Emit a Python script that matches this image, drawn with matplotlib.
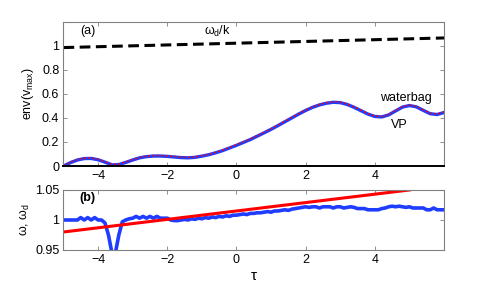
import matplotlib
matplotlib.use("Agg")
from matplotlib import pyplot as plt

plt.rcParams['font.family'] = ['Liberation Sans', 'DejaVu Sans']
plt.rcParams['font.size'] = 9
plt.rcParams['mathtext.fontset'] = 'custom'
plt.rcParams['mathtext.rm'] = 'Liberation Sans'
plt.rcParams['mathtext.it'] = 'Liberation Sans'

# panel (a): envelope of v_max
tau_a = [-5.0, -4.8, -4.6, -4.4, -4.2, -4.0, -3.8, -3.6, -3.4, -3.2, -3.0, -2.8, -2.6, -2.4,
         -2.2, -2.0, -1.8, -1.6, -1.4, -1.2, -1.0, -0.8, -0.6, -0.4, -0.2, 0.0, 0.2, 0.4,
         0.6, 0.8, 1.0, 1.2, 1.4, 1.6, 1.8, 2.0, 2.2, 2.4, 2.6, 2.8, 3.0, 3.2, 3.4, 3.6,
         3.8, 4.0, 4.2, 4.4, 4.6, 4.8, 5.0, 5.2, 5.4, 5.6, 5.8, 6.0]
env_waterbag = [0.000, 0.028, 0.050, 0.062, 0.063, 0.052, 0.032, 0.010, 0.012, 0.030, 0.050,
                0.068, 0.078, 0.083, 0.083, 0.080, 0.075, 0.070, 0.068, 0.072, 0.082, 0.094,
                0.110, 0.128, 0.150, 0.172, 0.196, 0.220, 0.248, 0.276, 0.305, 0.336, 0.368,
                0.400, 0.432, 0.462, 0.488, 0.508, 0.522, 0.530, 0.527, 0.512, 0.488, 0.460,
                0.432, 0.412, 0.408, 0.425, 0.458, 0.490, 0.503, 0.492, 0.463, 0.435, 0.428,
                0.445]
env_vp = [0.003, 0.032, 0.054, 0.066, 0.067, 0.056, 0.036, 0.014, 0.016, 0.034, 0.054,
          0.072, 0.082, 0.087, 0.087, 0.084, 0.079, 0.074, 0.072, 0.076, 0.086, 0.098,
          0.114, 0.132, 0.154, 0.176, 0.200, 0.224, 0.252, 0.280, 0.309, 0.340, 0.372,
          0.404, 0.436, 0.466, 0.492, 0.512, 0.526, 0.534, 0.531, 0.516, 0.492, 0.464,
          0.436, 0.416, 0.412, 0.429, 0.462, 0.494, 0.507, 0.496, 0.467, 0.439, 0.432,
          0.449]
tau_phase = [-5.0, 6.0]
phase_vel = [0.985, 1.065]

# panel (b): frequencies
tau_b = [-5.0, -4.9, -4.8, -4.7, -4.6, -4.5, -4.4, -4.3, -4.2, -4.1, -4.0, -3.9, -3.8, -3.7,
         -3.6, -3.5, -3.4, -3.3, -3.2, -3.1, -3.0, -2.9, -2.8, -2.7, -2.6, -2.5, -2.4, -2.3,
         -2.2, -2.1, -2.0, -1.9, -1.8, -1.7, -1.6, -1.5, -1.4, -1.3, -1.2, -1.1, -1.0, -0.9,
         -0.8, -0.7, -0.6, -0.5, -0.4, -0.3, -0.2, -0.1, 0.0, 0.1, 0.2, 0.3, 0.4, 0.5, 0.6,
         0.7, 0.8, 0.9, 1.0, 1.1, 1.2, 1.3, 1.4, 1.5, 1.6, 1.7, 1.8, 1.9, 2.0, 2.1, 2.2, 2.3,
         2.4, 2.5, 2.6, 2.7, 2.8, 2.9, 3.0, 3.1, 3.2, 3.3, 3.4, 3.5, 3.6, 3.7, 3.8, 3.9, 4.0,
         4.1, 4.2, 4.3, 4.4, 4.5, 4.6, 4.7, 4.8, 4.9, 5.0, 5.1, 5.2, 5.3, 5.4, 5.5, 5.6, 5.7,
         5.8, 5.9, 6.0]
omega = [1.000, 1.000, 1.000, 1.000, 1.000, 1.004, 1.000, 1.004, 1.000, 1.004, 1.000, 1.000,
         0.995, 0.975, 0.945, 0.945, 0.975, 0.997, 1.000, 1.002, 1.003, 1.006, 1.003, 1.006,
         1.003, 1.006, 1.003, 1.006, 1.003, 1.003, 1.003, 1.000, 0.999, 0.999, 1.000, 1.001,
         1.000, 1.002, 1.001, 1.003, 1.002, 1.004, 1.003, 1.005, 1.004, 1.006, 1.005, 1.007,
         1.006, 1.008, 1.008, 1.009, 1.010, 1.009, 1.011, 1.011, 1.012, 1.012, 1.013, 1.014,
         1.013, 1.015, 1.015, 1.016, 1.017, 1.016, 1.018, 1.019, 1.020, 1.021, 1.022, 1.021,
         1.022, 1.022, 1.020, 1.022, 1.022, 1.022, 1.020, 1.022, 1.022, 1.020, 1.021, 1.022,
         1.021, 1.019, 1.019, 1.019, 1.017, 1.017, 1.017, 1.017, 1.019, 1.020, 1.022, 1.023,
         1.022, 1.023, 1.022, 1.021, 1.022, 1.020, 1.020, 1.020, 1.020, 1.017, 1.017, 1.020,
         1.017, 1.017, 1.017]
tau_d = [-5.0, 5.0]
omega_d = [0.980, 1.050]

blue = "#1f3dff"
grey = "#808080"

fig = plt.figure(figsize=(4.91, 2.82), dpi=100)
ax1 = fig.add_axes([0.1293, 0.4113, 0.775, 0.5117])
ax2 = fig.add_axes([0.1293, 0.1135, 0.775, 0.2128])

ax1.plot(tau_a, env_waterbag, color=blue, linewidth=2.4)
ax1.plot(tau_a, env_vp, color="red", linewidth=1.2, linestyle=":")
ax1.plot(tau_phase, phase_vel, color="black", linewidth=2.2, linestyle=(0, (3.5, 1.8)))
ax1.set_xlim(-5, 6)
ax1.set_ylim(0, 1.2)
ax1.set_yticks([0, 0.2, 0.4, 0.6, 0.8, 1])
ax1.set_yticklabels(["0", "0.2", "0.4", "0.6", "0.8", "1"])
ax1.set_xticks([-4, -2, 0, 2, 4])
ax1.set_ylabel(r"env(v$_{\mathrm{max}}$)", labelpad=4)
ax1.set_xlabel(r"$\tau$", fontsize=11)
ax1.text(-4.3, 1.12, "(a)", ha="center", va="center")
ax1.text(-0.55, 1.12, r"$\omega_d$/k", ha="center", va="center")
ax1.text(4.9, 0.565, "waterbag", ha="center", va="center")
ax1.text(4.7, 0.345, "VP", ha="center", va="center")

ax2.plot(tau_b, omega, color=blue, linewidth=2.6)
ax2.plot(tau_d, omega_d, color="red", linewidth=2.2)
ax2.set_xlim(-5, 6)
ax2.set_ylim(0.95, 1.05)
ax2.set_yticks([0.95, 1, 1.05])
ax2.set_yticklabels(["0.95", "1", "1.05"])
ax2.set_xticks([-4, -2, 0, 2, 4])
ax2.set_ylabel(r"$\omega$, $\omega_d$", labelpad=2)
ax2.set_xlabel(r"$\tau$", fontsize=11, labelpad=2)
ax2.text(-4.3, 1.036, "(b)", ha="center", va="center", fontweight="bold")

for ax in (ax1, ax2):
    ax.tick_params(direction="in", top=True, right=True, length=3, width=0.6,
                   color=grey, labelsize=9, pad=3)
    for s in ax.spines.values():
        s.set_color(grey)
        s.set_linewidth(0.8)
ax1.spines["bottom"].set_color("black")
ax1.spines["bottom"].set_linewidth(1.4)

plt.savefig("out.png", dpi=100)
